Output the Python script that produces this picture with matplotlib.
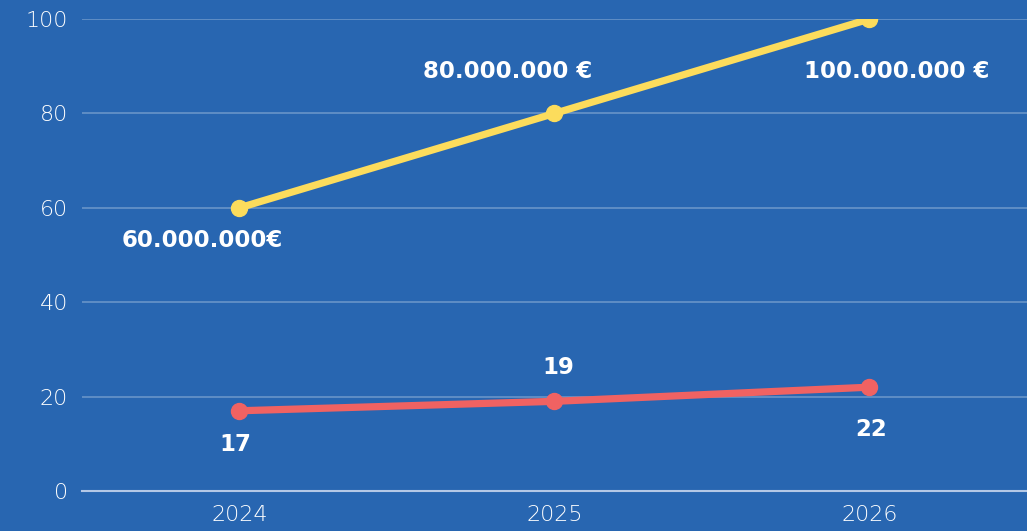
import matplotlib.pyplot as plt

years = ['2024', '2025', '2026']
budget = [60, 80, 100]
budget_labels = ['60.000.000€', '80.000.000 €', '100.000.000 €']
count = [17, 19, 22]
count_labels = ['17', '19', '22']

bg = '#2866b1'
yellow = '#fcdc5c'
red = '#f06262'

fig = plt.figure(figsize=(10.27, 5.31), dpi=100)
fig.patch.set_facecolor(bg)
ax = fig.add_axes([0.0798, 0.0753, 0.9202, 0.8889])
ax.set_facecolor(bg)

x = list(range(len(years)))
ax.plot(x, budget, color=yellow, lw=5.2, marker='o', ms=11.5, solid_capstyle='round', zorder=3)
ax.plot(x, count, color=red, lw=5.2, marker='o', ms=11.5, solid_capstyle='round', zorder=3)

# label offsets in pixels
budget_off = [(-37, -33), (-47, 42), (27, -52)]
count_off = [(-4, -34), (4, 34), (2, -42)]
lab_font = dict(color='white', fontsize=16.5, fontweight='bold', family='DejaVu Sans',
                ha='center', va='center')
for i in x:
    ax.annotate(budget_labels[i], (i, budget[i]), xytext=budget_off[i],
                textcoords='offset pixels', **lab_font)
    ax.annotate(count_labels[i], (i, count[i]), xytext=count_off[i],
                textcoords='offset pixels', **lab_font)

ax.set_xlim(-0.5, 2.5)
ax.set_ylim(0, 100)
ax.set_xticks(x)
ax.set_xticklabels(years)
ax.set_yticks([0, 20, 40, 60, 80, 100])
ax.tick_params(length=0, colors='white', labelsize=16, pad=10)
for lab in ax.get_xticklabels() + ax.get_yticklabels():
    lab.set_family('DejaVu Sans')
    lab.set_fontweight('light')
ax.yaxis.grid(True, color='white', alpha=0.3, lw=1.2)
ax.set_axisbelow(True)
for s in ['top', 'right', 'left']:
    ax.spines[s].set_visible(False)
ax.spines['bottom'].set_color('#b4c8e6')
ax.spines['bottom'].set_linewidth(1.5)

fig.savefig('out.png', dpi=100, facecolor=bg)
